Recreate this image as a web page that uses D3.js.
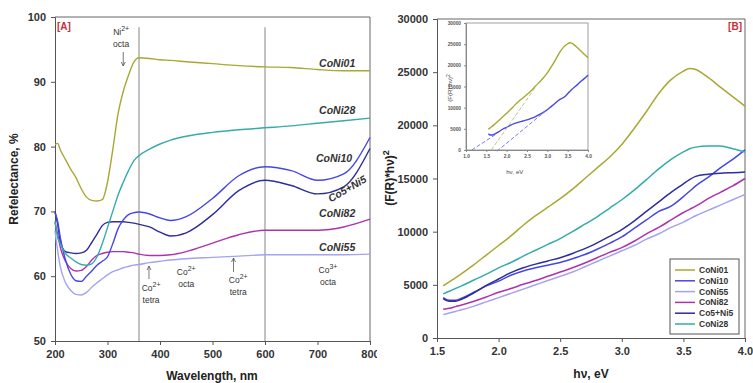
<!DOCTYPE html>
<html><head><meta charset="utf-8">
<script src="https://cdn.jsdelivr.net/npm/d3@7"></script>
<style>
body{margin:0;background:#fff}
svg{display:block}
text{font-family:Arial,"Liberation Sans",sans-serif}
</style>
</head><body>
<svg id="c" width="753" height="383"></svg>
<script>
// ---------- Panel A data (reflectance, %) ----------
const wavelength = [200,205,210,220,230,240,250,260,270,280,290,300,310,320,330,340,350,360,380,400,420,450,500,550,600,650,700,750,800];
const reflCoNi01 = [80.3,80.5,79.5,78,76.5,75.2,73.5,72.2,71.7,71.6,71.8,74.5,79.5,85,88.5,91,93,93.7,93.6,93.4,93.3,93.1,92.8,92.5,92.3,92.2,91.9,91.7,91.7];
const reflCoNi28 = [68.5,66,65,63.5,62.8,62.2,61.8,61.7,61.9,63,65,67.5,70,72.5,74.5,76.3,77.8,78.6,79.6,80.4,81,81.6,82.2,82.6,82.9,83.2,83.6,84,84.4];
const reflCoNi10 = [69.8,68.5,66,62.5,60.3,59.3,59.2,60,60.8,61.7,62.3,63,65,67.3,68.7,69.5,69.8,69.9,69.6,69,68.6,69.2,72,75.5,76.9,76.3,74.8,75.8,81.4];
const reflCo5Ni5 = [70,68,65.5,63.8,63.6,63.5,63.6,64,65.2,66.5,67.8,68.3,68.4,68.4,68.4,68.3,68.2,68,67.6,66.8,66.2,66.7,69.5,73.2,74.8,74,72.7,73.8,79.7];
const reflCoNi82 = [68.3,66.5,64.5,62.3,61.2,60.8,60.9,61.5,62.5,63.2,63.5,63.7,63.8,63.8,63.8,63.7,63.6,63.4,63.2,63.2,63.3,63.8,65.1,66.4,67.1,67.1,67.1,67.6,68.8];
const reflCoNi55 = [67,64,61.5,59,57.8,57.2,57.1,57.5,58.3,59,59.6,60.2,60.7,61,61.3,61.5,61.7,61.8,62.1,62.3,62.5,62.7,62.9,63.1,63.3,63.3,63.3,63.3,63.4];
const wlTicks = [200,300,400,500,600,700,800];
const reflTicks = [50,60,70,80,90,100];
const bandLines = [360,600];

// ---------- Panel B data ((F(R)*hv)^2) ----------
const hv = [1.55,1.6,1.65,1.7,1.8,1.9,2.0,2.1,2.2,2.3,2.4,2.5,2.6,2.7,2.8,2.9,3.0,3.1,3.2,3.3,3.4,3.5,3.55,3.6,3.7,3.8,3.9,4.0];
const kmCoNi01 = [4900,5280,5650,6050,6900,7800,8700,9600,10600,11500,12300,13100,14000,15000,16000,17000,18200,19700,21300,23000,24300,25100,25350,25250,24500,23600,22700,21800];
const kmCoNi10 = [3800,3550,3550,3750,4300,4900,5350,5900,6300,6600,6850,7100,7450,7850,8350,8900,9500,10300,11100,11900,12400,13300,13800,14300,15100,16000,16800,17700];
const kmCoNi55 = [2200,2350,2500,2650,3000,3400,3800,4200,4600,5000,5400,5800,6200,6700,7200,7700,8200,8700,9300,9800,10400,10900,11200,11500,12000,12500,13000,13500];
const kmCoNi82 = [2700,2800,2950,3100,3450,3850,4300,4650,5050,5400,5800,6200,6600,7050,7550,8050,8500,9100,9800,10400,11100,11800,12100,12400,13100,13700,14300,15000];
const kmCo5Ni5 = [3700,3450,3450,3650,4250,4950,5550,6150,6600,6950,7250,7550,7950,8400,8950,9550,10200,11000,11900,12800,13700,14500,14900,15200,15400,15500,15550,15600];
const kmCoNi28 = [4150,4400,4650,4900,5450,6000,6600,7100,7700,8250,8800,9350,10000,10700,11400,12200,13000,13900,14900,15900,16800,17500,17800,17950,18050,18050,17800,17500];
const hvTicks = [1.5,2.0,2.5,3.0,3.5,4.0];
const kmTicks = [0,5000,10000,15000,20000,25000,30000];
const insetHvTicks = [1.0,1.5,2.0,2.5,3.0,3.5,4.0];
const insetKmTicks = [0,5000,10000,15000,20000,25000,30000];
const tangentCoNi01 = [[1.62,0],[2.78,15800]];
const tangentCoNi10a = [[1.14,0],[1.72,3600]];
const tangentCoNi10b = [[1.76,-300],[2.97,9300]];

const colors = {CoNi01:"#a9a832", CoNi10:"#4646e6", CoNi55:"#a3a3f2", CoNi82:"#ae32ae", Co5Ni5:"#2d2d9c", CoNi28:"#35abab"};

const svg = d3.select("#c");
const F = "Arial, 'Liberation Sans', sans-serif";

function styleAxis(g, fs){
  g.selectAll("path.domain").attr("stroke","#555");
  g.selectAll(".tick line").attr("stroke","#555");
  g.selectAll(".tick text").attr("font-size",fs).attr("font-weight","bold").attr("fill","#333").attr("font-family",F);
}

// ================= Panel A =================
svg.append("defs").append("clipPath").attr("id","clipA").append("rect").attr("x",0).attr("y",0).attr("width",377).attr("height",383);
const A = svg.append("g").attr("clip-path","url(#clipA)");
const xA = d3.scaleLinear().domain([200,800]).range([55,370]);
const yA = d3.scaleLinear().domain([50,100]).range([341,17]);

A.append("line").attr("x1",xA(200)).attr("x2",xA(800)).attr("y1",yA(100)).attr("y2",yA(100)).attr("stroke","#666");
A.append("line").attr("x1",xA(800)).attr("x2",xA(800)).attr("y1",yA(100)).attr("y2",yA(50)).attr("stroke","#666");
A.selectAll(".band").data(bandLines).join("line")
  .attr("x1",d=>xA(d)).attr("x2",d=>xA(d)).attr("y1",yA(98.4)).attr("y2",yA(50))
  .attr("stroke","#999").attr("stroke-width",1.2);

const gxA = A.append("g").attr("transform",`translate(0,${yA(50)})`)
  .call(d3.axisBottom(xA).tickValues(wlTicks).tickFormat(d3.format("d")).tickSize(4).tickPadding(5));
styleAxis(gxA,11);
const gyA = A.append("g").attr("transform",`translate(${xA(200)},0)`)
  .call(d3.axisLeft(yA).tickValues(reflTicks).tickSize(4).tickPadding(5));
styleAxis(gyA,11);

const seriesA = [
  {k:"CoNi55", v:reflCoNi55},{k:"CoNi82", v:reflCoNi82},{k:"Co5Ni5", v:reflCo5Ni5},
  {k:"CoNi10", v:reflCoNi10},{k:"CoNi28", v:reflCoNi28},{k:"CoNi01", v:reflCoNi01}];
const lineA = d3.line().x((d,i)=>xA(wavelength[i])).y(d=>yA(d)).curve(d3.curveMonotoneX);
A.selectAll(".sa").data(seriesA).join("path")
  .attr("d",s=>lineA(s.v)).attr("fill","none").attr("stroke",s=>colors[s.k]).attr("stroke-width",1.4);

A.append("text").attr("x",57).attr("y",30).attr("font-size",10).attr("font-weight","bold").attr("fill","#c3303a").text("[A]");

function lab(x,y,t){ return A.append("text").attr("x",x).attr("y",y).attr("text-anchor","end")
  .attr("font-size",10.5).attr("font-weight","bold").attr("font-style","italic").attr("fill","#333").text(t); }
lab(xA(772),yA(92.3),"CoNi01");
lab(xA(772),yA(85.0),"CoNi28");
lab(xA(766),yA(77.6),"CoNi10");
lab(xA(772),yA(69.1),"CoNi82");
lab(xA(772),yA(63.9),"CoNi55");
A.append("text").attr("transform",`translate(${xA(760)},${yA(73.0)}) rotate(-30)`).attr("text-anchor","middle")
  .attr("font-size",10.5).attr("font-weight","bold").attr("font-style","italic").attr("fill","#333").text("Co5+Ni5");

function ion(cx,cy,base,sup,sub){
  const t = A.append("text").attr("x",cx).attr("y",cy).attr("text-anchor","middle").attr("font-size",8.5).attr("fill","#333");
  t.append("tspan").text(base);
  t.append("tspan").attr("dy",-4).attr("font-size",7).text(sup);
  A.append("text").attr("x",cx).attr("y",cy+12).attr("text-anchor","middle").attr("font-size",8.5).attr("fill","#333").text(sub);
}
ion(xA(326),35,"Ni","2+","octa");
ion(xA(383),291,"Co","2+","tetra");
ion(xA(450),275,"Co","2+","octa");
ion(xA(549),283,"Co","2+","tetra");
ion(xA(720),273,"Co","3+","octa");

function arrow(x,yTail,yHead){
  A.append("line").attr("x1",x).attr("x2",x).attr("y1",yTail).attr("y2",yHead).attr("stroke","#555").attr("stroke-width",0.8);
  const dir = yHead>yTail?-1:1;
  A.append("path").attr("d",`M${x-2},${yHead+dir*4}L${x},${yHead}L${x+2},${yHead+dir*4}`).attr("fill","none").attr("stroke","#555").attr("stroke-width",0.8);
}
arrow(xA(330),52,66);
arrow(xA(379),279,266);
arrow(xA(540),272,258);

svg.append("text").attr("transform",`translate(18,${(17+341)/2}) rotate(-90)`).attr("text-anchor","middle")
  .attr("font-size",12).attr("font-weight","bold").attr("fill","#222").text("Refelectance, %");
svg.append("text").attr("x",212).attr("y",380).attr("text-anchor","middle")
  .attr("font-size",12).attr("font-weight","bold").attr("fill","#222").text("Wavelength, nm");

// ================= Panel B =================
const B = svg.append("g");
const xB = d3.scaleLinear().domain([1.5,4.0]).range([437,745]);
const yB = d3.scaleLinear().domain([0,30000]).range([338,19]);

B.append("line").attr("x1",xB(1.5)).attr("x2",xB(4)).attr("y1",yB(30000)).attr("y2",yB(30000)).attr("stroke","#666");
B.append("line").attr("x1",xB(4)).attr("x2",xB(4)).attr("y1",yB(30000)).attr("y2",yB(0)).attr("stroke","#666");
const gxB = B.append("g").attr("transform",`translate(0,${yB(0)})`)
  .call(d3.axisBottom(xB).tickValues(hvTicks).tickFormat(d3.format(".1f")).tickSize(4).tickPadding(5));
styleAxis(gxB,11);
const gyB = B.append("g").attr("transform",`translate(${xB(1.5)},0)`)
  .call(d3.axisLeft(yB).tickValues(kmTicks).tickFormat(d3.format("d")).tickSize(4).tickPadding(5));
styleAxis(gyB,11);

const seriesB = [
  {k:"CoNi55",v:kmCoNi55},{k:"CoNi82",v:kmCoNi82},{k:"CoNi10",v:kmCoNi10},
  {k:"Co5Ni5",v:kmCo5Ni5},{k:"CoNi28",v:kmCoNi28},{k:"CoNi01",v:kmCoNi01}];
const lineB = d3.line().x((d,i)=>xB(hv[i])).y(d=>yB(d)).curve(d3.curveMonotoneX);
B.selectAll(".sb").data(seriesB).join("path")
  .attr("d",s=>lineB(s.v)).attr("fill","none").attr("stroke",s=>colors[s.k]).attr("stroke-width",1.5);

B.append("text").attr("x",742).attr("y",30).attr("text-anchor","end").attr("font-size",10).attr("font-weight","bold").attr("fill","#c3303a").text("[B]");

const legendItems = [["CoNi01","CoNi01"],["CoNi10","CoNi10"],["CoNi55","CoNi55"],["CoNi82","CoNi82"],["Co5+Ni5","Co5Ni5"],["CoNi28","CoNi28"]];
const L = B.append("g");
L.append("rect").attr("x",670).attr("y",259).attr("width",69).attr("height",75).attr("fill","#fff").attr("stroke","#555").attr("stroke-width",1);
legendItems.forEach((it,i)=>{
  const yy = 270 + i*10.8;
  L.append("line").attr("x1",675).attr("x2",695).attr("y1",yy).attr("y2",yy).attr("stroke",colors[it[1]]).attr("stroke-width",1.5);
  L.append("text").attr("x",699).attr("y",yy+3).attr("font-size",8.5).attr("font-weight","bold").attr("fill","#333").text(it[0]);
});

svg.append("text").attr("transform",`translate(394,178) rotate(-90)`).attr("text-anchor","middle")
  .attr("font-size",12).attr("font-weight","bold").attr("fill","#222")
  .call(t=>{t.append("tspan").text("(F(R)*hν)"); t.append("tspan").attr("dy",-5).attr("font-size",9).text("2");});
svg.append("text").attr("x",591).attr("y",378).attr("text-anchor","middle")
  .attr("font-size",12).attr("font-weight","bold").attr("fill","#222").text("hν, eV");

// inset
const I = B.append("g");
const xI = d3.scaleLinear().domain([1.0,4.0]).range([466,588]);
const yI = d3.scaleLinear().domain([0,30000]).range([150,23]);
I.append("rect").attr("x",xI(1)).attr("y",yI(30000)).attr("width",xI(4)-xI(1)).attr("height",yI(0)-yI(30000)).attr("fill","#fff").attr("stroke","#888").attr("stroke-width",0.8);
const gxI = I.append("g").attr("transform",`translate(0,${yI(0)})`)
  .call(d3.axisBottom(xI).tickValues(insetHvTicks).tickFormat(d3.format(".1f")).tickSize(2).tickPadding(3));
const gyI = I.append("g").attr("transform",`translate(${xI(1)},0)`)
  .call(d3.axisLeft(yI).tickValues(insetKmTicks).tickFormat(d3.format("d")).tickSize(2).tickPadding(3));
[gxI,gyI].forEach(g=>{
  g.selectAll("path.domain").attr("stroke","#888");
  g.selectAll(".tick line").attr("stroke","#888");
  g.selectAll(".tick text").attr("font-size",4.8).attr("font-weight","bold").attr("fill","#555").attr("font-family",F);
});
const lineI = d3.line().x((d,i)=>xI(hv[i])).y(d=>yI(d)).curve(d3.curveMonotoneX);
I.append("path").attr("d",lineI(kmCoNi01)).attr("fill","none").attr("stroke",colors.CoNi01).attr("stroke-width",1.4);
I.append("path").attr("d",lineI(kmCoNi10)).attr("fill","none").attr("stroke",colors.CoNi10).attr("stroke-width",1.4);
const segI = d3.line().x(d=>xI(d[0])).y(d=>yI(d[1]));
I.append("path").attr("d",segI(tangentCoNi01)).attr("stroke","#c4c48a").attr("stroke-width",1).attr("stroke-dasharray","4,2").attr("fill","none");
I.append("path").attr("d",segI(tangentCoNi10a)).attr("stroke","#7b7bea").attr("stroke-width",1).attr("stroke-dasharray","4,2").attr("fill","none");
I.append("path").attr("d",segI(tangentCoNi10b)).attr("stroke","#7b7bea").attr("stroke-width",1).attr("stroke-dasharray","4,2").attr("fill","none");
I.append("text").attr("transform",`translate(452,88) rotate(-90)`).attr("text-anchor","middle")
  .attr("font-size",6).attr("fill","#444")
  .call(t=>{t.append("tspan").text("(F(R)*hν)"); t.append("tspan").attr("dy",-2.5).attr("font-size",5).text("2");});
I.append("text").attr("x",xI(2.2)).attr("y",174).attr("text-anchor","middle").attr("font-size",6).attr("fill","#444").text("hν, eV");
</script>
</body></html>
